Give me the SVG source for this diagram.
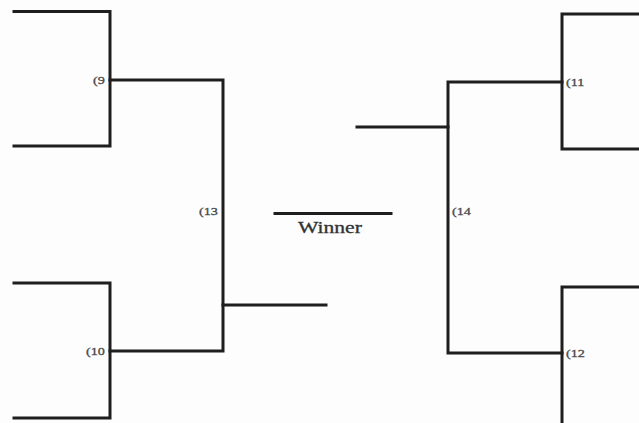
<svg xmlns="http://www.w3.org/2000/svg" width="639" height="423" viewBox="0 0 639 423">
<style>
.l{fill:none;stroke:#1e1e1e;stroke-width:3;stroke-linecap:square;stroke-linejoin:miter}
.t{font-family:"Liberation Serif",serif;font-size:10.5px;fill:#4a4a4a;stroke:#4a4a4a;stroke-width:0.3}
.w{font-family:"Liberation Serif",serif;font-size:16px;fill:#333;stroke:#333;stroke-width:0.3}
</style>
<rect width="639" height="423" fill="#fdfdfd"/>
<g id="connectors">
<path class="l" d="M14 11.5H110V146H14"/>
<path class="l" d="M14 283H110V418H14"/>
<path class="l" d="M110 80H223V351H110"/>
<path class="l" d="M223 305H326"/>
<path class="l" d="M639 14H562V149H639"/>
<path class="l" d="M639 287H562V423"/>
<path class="l" d="M562 82H448V353H562"/>
<path class="l" d="M357 127H448"/>
<path class="l" d="M275 213.5H391"/>
</g>
<g id="n9"><text class="t" transform="translate(93 84) scale(1.35 1)">(9</text></g>
<g id="n10"><text class="t" transform="translate(86 355) scale(1.35 1)">(10</text></g>
<g id="n13"><text class="t" transform="translate(199 215) scale(1.35 1)">(13</text></g>
<g id="n14"><text class="t" transform="translate(452 215) scale(1.35 1)">(14</text></g>
<g id="n11"><text class="t" transform="translate(566 86) scale(1.35 1)">(11</text></g>
<g id="n12"><text class="t" transform="translate(566 357) scale(1.35 1)">(12</text></g>
<g id="winner"><text class="w" transform="translate(298 233) scale(1.35 1)">Winner</text></g>
</svg>
